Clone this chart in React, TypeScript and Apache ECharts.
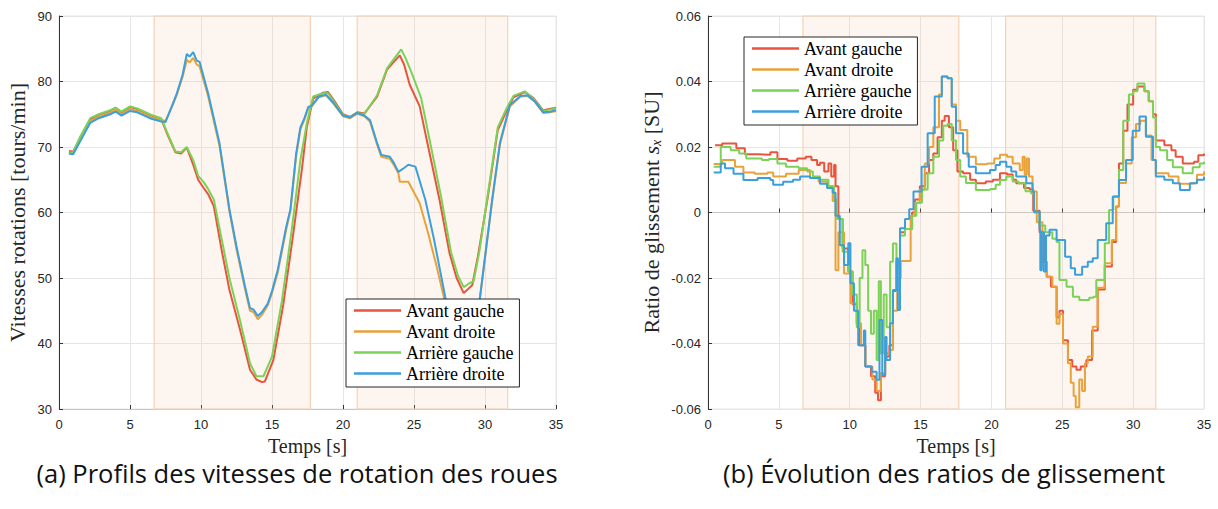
import React, { useEffect, useRef } from "react";
import * as echarts from "echarts";

// ---------- DATA ----------
const seriesNames = ["Avant gauche", "Avant droite", "Arrière gauche", "Arrière droite"];
const seriesColors = ["#e8543d", "#e9a23b", "#7bd257", "#3b9fdc"];
const shadedRanges: [number, number][] = [[6.7, 17.7], [21.0, 31.6]];
const xTicks = { min: 0, max: 35, interval: 5 };
const yTicksA = { min: 30, max: 90, interval: 10 };
const yTicksB = { min: -0.06, max: 0.06, interval: 0.02 };

// (a) wheel speeds [t (s), tours/min]
const speedAvG: [number, number][] = [
  [0.7, 69.4], [1.0, 69.3], [1.5, 71.4], [2.2, 74.2], [2.8, 74.9], [3.6, 75.5], [4.0, 76.0], [4.4, 75.3], [5.0, 76.1],
  [5.5, 75.8], [5.9, 75.4], [6.5, 74.8], [7.2, 74.3], [7.6, 72.1], [8.2, 69.2], [8.6, 69.0], [9.0, 69.9], [9.45, 67.3],
  [9.8, 65.0], [10.2, 63.7], [10.5, 62.8], [10.9, 61.0], [11.45, 54.3], [12.0, 48.2], [12.75, 42.1], [13.45, 36.0],
  [13.9, 34.5], [14.3, 34.1], [14.5, 34.2], [15.1, 37.5], [15.8, 46.0], [16.5, 56.8], [17.1, 66.5], [17.45, 73.0],
  [17.9, 77.4], [18.6, 78.3], [18.95, 78.4], [19.4, 77.0], [20.0, 75.0], [20.5, 74.6], [21.0, 75.3], [21.5, 75.1],
  [22.4, 77.7], [23.1, 81.8], [23.5, 82.8], [24.0, 84.0], [24.3, 82.6], [24.7, 79.5], [25.4, 76.2], [26.1, 69.0],
  [26.8, 61.9], [27.5, 53.8], [28.0, 50.0], [28.5, 47.7], [28.8, 48.3], [29.1, 48.9], [29.5, 53.3], [30.2, 62.4],
  [30.9, 72.6], [31.5, 75.4], [32.0, 77.6], [32.8, 78.4], [33.4, 77.5], [34.1, 75.6], [34.8, 75.9], [35.0, 76.0],
];
const speedAvD: [number, number][] = [
  [0.7, 69.2], [1.0, 69.1], [1.5, 71.1], [2.2, 73.9], [2.8, 74.6], [3.6, 75.2], [4.0, 75.7], [4.4, 75.0], [5.0, 75.8],
  [5.5, 75.5], [5.9, 75.1], [6.5, 74.5], [7.2, 74.1], [7.5, 74.0], [8.0, 76.4], [8.3, 78.0], [8.7, 80.7], [9.0, 83.3],
  [9.2, 82.9], [9.45, 83.6], [9.7, 82.6], [9.9, 82.3], [10.5, 77.8], [11.3, 70.2], [12.0, 60.2], [12.5, 54.4],
  [13.1, 48.3], [13.45, 45.0], [13.7, 44.8], [14.0, 43.7], [14.3, 44.4], [14.7, 45.8], [15.0, 47.7], [15.4, 50.8],
  [16.0, 57.4], [16.3, 60.3], [16.7, 68.6], [17.0, 72.7], [17.3, 74.3], [17.55, 75.9], [17.8, 76.2], [18.3, 77.6],
  [18.8, 77.9], [19.3, 76.7], [20.0, 74.7], [20.5, 74.4], [21.0, 75.1], [21.5, 74.7], [21.9, 73.9], [22.4, 70.4],
  [22.7, 68.5], [23.3, 68.2], [23.6, 67.2], [23.9, 66.0], [24.0, 64.7], [24.6, 64.7], [25.4, 61.4], [26.0, 56.8],
  [26.6, 51.7], [27.1, 47.1], [27.7, 40.5], [28.3, 37.0], [28.8, 38.2], [29.2, 41.3], [29.65, 47.0], [30.5, 61.7],
  [31.05, 70.4], [31.75, 76.2], [32.5, 77.7], [33.0, 77.8], [33.5, 76.9], [34.1, 75.2], [34.6, 75.3], [35.0, 75.5],
];
const speedArG: [number, number][] = [
  [0.7, 69.0], [1.0, 69.2], [1.5, 71.6], [2.2, 74.4], [2.8, 75.0], [3.6, 75.6], [4.0, 76.0], [4.4, 75.4], [5.0, 76.2],
  [5.5, 75.9], [5.9, 75.5], [6.5, 74.9], [7.2, 74.4], [7.6, 72.3], [8.2, 69.3], [8.6, 69.2], [9.0, 70.0], [9.45, 68.0],
  [9.8, 65.6], [10.2, 64.6], [10.5, 63.6], [10.9, 62.0], [11.45, 56.0], [12.0, 50.0], [12.75, 43.5], [13.45, 37.0],
  [13.9, 35.0], [14.4, 35.0], [15.0, 38.0], [15.7, 46.5], [16.4, 57.5], [17.0, 68.0], [17.45, 73.6], [17.9, 77.7],
  [18.6, 78.2], [18.95, 78.2], [19.4, 76.8], [20.0, 74.9], [20.5, 74.5], [21.0, 75.2], [21.5, 75.0], [22.4, 77.9],
  [23.1, 82.0], [23.5, 83.2], [24.1, 84.9], [24.4, 83.6], [24.8, 81.5], [25.5, 77.5], [26.2, 70.0], [26.9, 62.5],
  [27.6, 54.0], [28.1, 50.3], [28.5, 48.6], [28.9, 49.2], [29.2, 49.5], [29.6, 54.0], [30.2, 62.8], [30.9, 73.0],
  [31.5, 75.8], [32.0, 77.8], [32.8, 78.5], [33.4, 77.4], [34.1, 75.5], [34.8, 75.8], [35.0, 75.9],
];
const speedArD: [number, number][] = [
  [0.7, 69.0], [1.0, 68.9], [1.5, 70.9], [2.2, 73.7], [2.8, 74.4], [3.6, 75.0], [4.0, 75.4], [4.4, 74.8], [5.0, 75.5],
  [5.5, 75.3], [5.9, 74.9], [6.5, 74.3], [7.2, 73.9], [7.5, 73.8], [8.0, 76.5], [8.3, 78.2], [8.7, 81.0], [9.0, 84.2],
  [9.2, 83.8], [9.45, 84.5], [9.7, 83.2], [9.9, 83.0], [10.5, 78.2], [11.3, 70.6], [12.0, 60.5], [12.5, 54.8],
  [13.1, 48.7], [13.45, 45.4], [13.7, 45.2], [14.0, 44.2], [14.3, 44.8], [14.7, 46.1], [15.0, 48.0], [15.4, 51.2],
  [16.0, 57.8], [16.3, 60.5], [16.7, 69.0], [17.0, 73.0], [17.3, 74.5], [17.55, 76.1], [17.8, 76.3], [18.3, 77.7],
  [18.8, 78.0], [19.3, 76.8], [20.0, 74.8], [20.5, 74.5], [21.0, 75.2], [21.5, 74.8], [21.9, 74.1], [22.4, 70.6],
  [22.7, 68.8], [23.3, 68.5], [23.6, 67.5], [23.9, 66.2], [24.3, 66.8], [24.6, 67.3], [25.1, 67.0], [25.8, 61.9],
  [26.4, 56.0], [27.2, 47.1], [27.8, 41.0], [28.3, 37.5], [28.8, 38.5], [29.2, 41.5], [29.65, 47.1], [30.5, 61.9],
  [31.05, 70.6], [31.75, 76.4], [32.5, 77.8], [33.0, 77.9], [33.5, 77.0], [34.1, 75.3], [34.6, 75.4], [35.0, 75.6],
];

// (b) slip ratios [t (s), s_x], step values
const slipAvG: [number, number][] = [
  [0.5, 0.0205], [1.0, 0.0211], [2.0, 0.0196], [2.6, 0.0178], [3.5, 0.0176], [4.4, 0.0184], [4.9, 0.0163], [5.6, 0.0158],
  [6.3, 0.0165], [6.9, 0.017], [7.3, 0.016], [7.7, 0.0145], [7.9, 0.0152], [8.2, 0.0125], [8.5, 0.015], [8.7, 0.011],
  [8.9, 0.0145], [9.0, 0.008], [9.2, -0.002], [9.5, -0.011], [9.9, -0.018], [10.2, -0.028], [10.5, -0.034], [10.7, -0.0405],
  [11.1, -0.047], [11.5, -0.05], [11.8, -0.055], [12.0, -0.0573], [12.2, -0.05], [12.5, -0.044], [12.8, -0.0405],
  [13.05, -0.024], [13.3, -0.015], [13.55, -0.006], [13.9, -0.005], [14.4, 0.0], [14.6, 0.004], [14.95, 0.008],
  [15.3, 0.012], [15.6, 0.016], [15.9, 0.018], [16.2, 0.023], [16.5, 0.028], [16.7, 0.0295], [17.0, 0.026], [17.3, 0.019],
  [17.6, 0.0125], [18.0, 0.012], [18.5, 0.01], [18.9, 0.0089], [19.6, 0.0095], [20.1, 0.01], [20.6, 0.012], [21.1, 0.0116],
  [21.5, 0.01], [21.75, 0.0089], [22.3, 0.0075], [22.7, 0.007], [22.95, 0.0005], [23.4, -0.006], [23.7, -0.015],
  [23.9, -0.0196], [24.2, -0.0227], [24.6, -0.032], [24.8, -0.03], [25.05, -0.039], [25.4, -0.045], [25.7, -0.047],
  [26.0, -0.048], [26.3, -0.047], [26.7, -0.045], [27.1, -0.036], [27.5, -0.0235], [28.0, -0.0165], [28.5, -0.009],
  [28.8, 0.0018], [29.0, 0.015], [29.3, 0.025], [29.6, 0.033], [30.0, 0.0375], [30.3, 0.0385], [30.8, 0.037],
  [31.1, 0.034], [31.4, 0.03], [31.6, 0.022], [32.2, 0.0205], [32.7, 0.019], [33.0, 0.017], [33.5, 0.015], [34.3, 0.0155],
  [34.6, 0.0175], [35.0, 0.018],
];
const slipAvD: [number, number][] = [
  [0.4, 0.0148], [1.0, 0.016], [1.9, 0.014], [2.5, 0.0122], [3.3, 0.0118], [4.2, 0.0122], [4.6, 0.011], [5.5, 0.0118],
  [6.4, 0.013], [7.2, 0.0105], [7.8, 0.0095], [8.4, 0.008], [8.8, 0.0035], [9.0, -0.0176], [9.2, -0.006], [9.6, -0.0186],
  [10.05, -0.0277], [10.5, -0.0338], [10.8, -0.0405], [11.1, -0.047], [11.6, -0.051], [11.9, -0.0545], [12.2, -0.049],
  [12.5, -0.043], [12.85, -0.042], [13.05, -0.03], [13.35, -0.02], [13.6, -0.0148], [14.3, -0.001], [14.6, 0.003],
  [14.95, 0.007], [15.3, 0.015], [15.6, 0.02], [15.9, 0.026], [16.3, 0.036], [16.5, 0.0415], [16.9, 0.041], [17.2, 0.033],
  [17.5, 0.028], [17.8, 0.0252], [18.3, 0.017], [18.9, 0.0147], [19.7, 0.015], [20.2, 0.0165], [20.6, 0.0176],
  [21.1, 0.017], [21.5, 0.015], [22.0, 0.013], [22.2, 0.017], [22.35, 0.0115], [22.5, 0.0165], [22.65, 0.011],
  [22.9, 0.0064], [23.2, -0.003], [23.6, -0.015], [23.9, -0.0196], [24.3, -0.0227], [24.6, -0.034], [24.8, -0.031],
  [25.05, -0.04], [25.4, -0.046], [25.6, -0.052], [25.8, -0.056], [25.95, -0.0595], [26.2, -0.051], [26.4, -0.0545],
  [26.6, -0.046], [26.8, -0.044], [27.15, -0.0349], [27.5, -0.023], [28.0, -0.0155], [28.5, -0.0084], [28.8, 0.0018],
  [29.0, 0.009], [29.5, 0.015], [29.9, 0.023], [30.2, 0.027], [30.5, 0.028], [30.9, 0.0235], [31.3, 0.016], [31.6, 0.012],
  [32.5, 0.011], [33.2, 0.0088], [34.0, 0.009], [34.5, 0.0115], [35.0, 0.0125],
];
const slipArG: [number, number][] = [
  [0.4, 0.014], [0.9, 0.02], [1.6, 0.019], [2.2, 0.018], [2.7, 0.0165], [3.8, 0.016], [4.3, 0.0163], [4.9, 0.015],
  [5.5, 0.014], [6.4, 0.0135], [7.0, 0.0125], [7.4, 0.011], [7.9, 0.01], [8.5, 0.008], [8.9, 0.004], [9.1, -0.002],
  [9.5, -0.012], [9.9, -0.018], [10.2, -0.025], [10.5, -0.035], [10.7, -0.02], [10.9, -0.0115], [11.1, -0.016],
  [11.3, -0.03], [11.5, -0.037], [11.7, -0.03], [11.9, -0.045], [12.05, -0.021], [12.2, -0.043], [12.4, -0.025],
  [12.6, -0.035], [12.85, -0.015], [13.05, -0.0095], [13.3, -0.016], [13.55, -0.007], [13.9, -0.005], [14.4, -0.001],
  [14.7, 0.003], [15.1, 0.007], [15.5, 0.012], [15.9, 0.017], [16.3, 0.022], [16.6, 0.0265], [16.9, 0.027], [17.2, 0.022],
  [17.5, 0.016], [17.8, 0.011], [18.2, 0.009], [18.9, 0.0069], [19.9, 0.0072], [20.3, 0.0085], [20.6, 0.0099],
  [21.05, 0.011], [21.5, 0.0095], [21.9, 0.0089], [22.4, 0.0065], [22.8, 0.0058], [23.0, 0.0], [23.4, -0.004],
  [23.8, -0.006], [24.3, -0.008], [24.6, -0.009], [24.8, -0.0206], [25.3, -0.0227], [25.75, -0.0257], [26.2, -0.0267],
  [26.9, -0.026], [27.2, -0.0257], [27.4, -0.0206], [28.0, -0.0094], [28.3, 0.0008], [28.6, 0.005], [29.0, 0.013],
  [29.3, 0.028], [29.7, 0.036], [30.0, 0.037], [30.3, 0.0394], [30.8, 0.037], [31.1, 0.034], [31.4, 0.029], [31.6, 0.02],
  [31.9, 0.019], [32.4, 0.016], [32.8, 0.0138], [33.5, 0.012], [34.2, 0.0138], [34.7, 0.015], [35.0, 0.0155],
];
const slipArD: [number, number][] = [
  [0.4, 0.0122], [0.9, 0.015], [1.2, 0.0135], [1.8, 0.0118], [2.5, 0.0099], [3.5, 0.0105], [4.4, 0.0099], [4.6, 0.0085],
  [5.3, 0.0094], [6.0, 0.01], [6.5, 0.011], [7.2, 0.0105], [7.9, 0.0088], [8.4, 0.0075], [8.8, 0.006], [9.0, -0.001],
  [9.3, -0.01], [9.6, -0.016], [9.9, -0.0094], [10.05, -0.0216], [10.3, -0.03], [10.6, -0.0405], [11.0, -0.036],
  [11.1, -0.047], [11.55, -0.0486], [11.9, -0.0511], [12.1, -0.0328], [12.3, -0.0496], [12.5, -0.038], [12.6, -0.045],
  [12.85, -0.0338], [13.05, -0.0237], [13.3, -0.014], [13.4, -0.0298], [13.55, -0.0048], [13.9, -0.002], [14.2, 0.001],
  [14.5, 0.0064], [15.07, 0.014], [15.5, 0.0242], [16.0, 0.0354], [16.5, 0.0415], [16.9, 0.041], [17.2, 0.0323],
  [17.5, 0.0242], [18.0, 0.018], [18.4, 0.014], [18.9, 0.012], [19.9, 0.013], [20.3, 0.0145], [20.6, 0.0155],
  [21.05, 0.014], [21.4, 0.0125], [21.75, 0.011], [22.46, 0.0089], [22.9, 0.0064], [23.0, 0.0002], [23.4, -0.0053],
  [23.45, -0.0176], [23.55, -0.006], [23.7, -0.018], [23.85, -0.007], [24.1, -0.0053], [24.6, -0.0084], [25.2, -0.0135],
  [25.6, -0.017], [25.9, -0.019], [26.4, -0.0166], [26.8, -0.015], [27.15, -0.014], [27.5, -0.0084], [28.1, -0.0033],
  [28.56, 0.0048], [29.0, 0.0099], [29.5, 0.016], [29.97, 0.025], [30.45, 0.0293], [30.9, 0.0231], [31.4, 0.016],
  [31.6, 0.011], [32.2, 0.01], [32.8, 0.0089], [33.3, 0.0069], [34.0, 0.0089], [34.5, 0.01], [35.0, 0.011],
];

const speedSeries = [speedAvG, speedAvD, speedArG, speedArD];
const slipSeries = [slipAvG, slipAvD, slipArG, slipArD];

const captionA = "(a) Profils des vitesses de rotation des roues";
const captionB = "(b) Évolution des ratios de glissement";

// ---------- STYLES ----------
const SERIF = "Liberation Serif";
const SANS = "Liberation Sans";

function xAxisCfg(gridIndex: number) {
  return {
    type: "value",
    gridIndex,
    min: xTicks.min,
    max: xTicks.max,
    interval: xTicks.interval,
    name: "Temps [s]",
    nameLocation: "middle",
    nameGap: 25,
    nameTextStyle: { fontFamily: SERIF, fontSize: 20, color: "#262626", lineHeight: 19 },
    axisLine: { show: true, lineStyle: { color: "#c6c6c6", width: 1 } },
    axisTick: { show: true, inside: true, length: 4, lineStyle: { color: "#333" } },
    axisLabel: { fontFamily: SANS, fontSize: 13, color: "#262626", margin: 9 },
    splitLine: { show: true, lineStyle: { color: "#e6e6e6", width: 1 } },
  };
}

function yAxisCfg(gridIndex: number, ticks: { min: number; max: number; interval: number }, name: string, gap: number, fmt?: (v: number) => string) {
  return {
    type: "value",
    gridIndex,
    min: ticks.min,
    max: ticks.max,
    interval: ticks.interval,
    name,
    nameLocation: "middle",
    nameGap: gap,
    nameTextStyle: {
      fontFamily: SERIF,
      fontSize: 22,
      color: "#262626",
      rich: {
        i: { fontFamily: SERIF, fontSize: 22, fontStyle: "italic", color: "#262626" },
        sub: { fontFamily: SERIF, fontSize: 14, fontStyle: "italic", color: "#262626", padding: [10, 0, 0, 0] },
      },
    },
    axisLine: { show: true, onZero: false, lineStyle: { color: "#333", width: 1 } },
    axisTick: { show: true, inside: true, length: 4, lineStyle: { color: "#333" } },
    axisLabel: { fontFamily: SANS, fontSize: 13, color: "#262626", margin: 7, formatter: fmt },
    splitLine: { show: true, lineStyle: { color: "#e6e6e6", width: 1 } },
  };
}

function legendCfg(left: number, top: number) {
  return {
    show: true,
    orient: "vertical",
    left,
    top,
    data: seriesNames,
    icon: "rect",
    itemWidth: 47,
    itemHeight: 2.5,
    itemGap: 0,
    padding: [1, 6, 3, 8],
    borderColor: "#262626",
    borderWidth: 1,
    borderRadius: 0,
    backgroundColor: "#ffffff",
    textStyle: { fontFamily: SERIF, fontSize: 18, color: "#000", lineHeight: 21 },
    selectedMode: false,
  };
}

export default function App() {
  const ref = useRef<HTMLDivElement>(null);
  useEffect(() => {
    if (!ref.current) return;
    const chart = echarts.init(ref.current, undefined, { renderer: "svg" });

    const shadeSeries = (xi: number) => ({
      type: "line",
      name: "shade" + xi,
      xAxisIndex: xi,
      yAxisIndex: xi,
      data: [],
      silent: true,
      z: 1,
      markArea: {
        silent: true,
        itemStyle: { color: "rgba(243,196,158,0.17)", borderColor: "#f6d2b4", borderWidth: 1.2 },
        data: shadedRanges.map(([a, b]) => [{ xAxis: a }, { xAxis: b }]),
      },
    });

    const lines = (data: [number, number][][], xi: number, step: boolean) =>
      data.map((d, i) => ({
        type: "line",
        name: seriesNames[i],
        xAxisIndex: xi,
        yAxisIndex: xi,
        data: d,
        showSymbol: false,
        symbol: "none",
        step: step ? "end" : false,
        z: 3,
        lineStyle: { color: seriesColors[i], width: 2 },
        itemStyle: { color: seriesColors[i] },
      }));

    chart.setOption({
      animation: false,
      backgroundColor: "#ffffff",
      color: seriesColors,
      grid: [
        { left: 59, top: 16, width: 497, height: 393, show: true, borderColor: "#e6e6e6", borderWidth: 1, backgroundColor: "transparent" },
        { left: 708, top: 16, width: 496, height: 393, show: true, borderColor: "#e6e6e6", borderWidth: 1, backgroundColor: "transparent" },
      ],
      xAxis: [xAxisCfg(0), xAxisCfg(1)],
      yAxis: [
        yAxisCfg(0, yTicksA, "Vitesses rotations [tours/min]", 31),
        yAxisCfg(1, yTicksB, "Ratio de glissement {i|s}{sub|x} [SU]", 45, (v: number) =>
          Math.abs(v) < 1e-9 ? "0" : v.toFixed(2)
        ),
      ],
      legend: [legendCfg(346, 299), legendCfg(744, 37)],
      series: [shadeSeries(0), shadeSeries(1), ...lines(speedSeries, 0, false), ...lines(slipSeries, 1, true)],
      graphic: [
        {
          type: "text",
          x: 297,
          y: 473,
          style: { text: captionA, fontFamily: "Open Sans", fontSize: 25.5, lineHeight: 26, fill: "#111", align: "center", verticalAlign: "middle" },
        },
        {
          type: "text",
          x: 944,
          y: 473,
          style: { text: captionB, fontFamily: "Open Sans", fontSize: 25.5, lineHeight: 26, fill: "#111", align: "center", verticalAlign: "middle" },
        },
      ],
    });
    return () => chart.dispose();
  }, []);

  return (
    <div
      ref={ref}
      style={{ position: "fixed", left: 0, top: 0, width: 1218, height: 509, background: "#fff" }}
    />
  );
}
